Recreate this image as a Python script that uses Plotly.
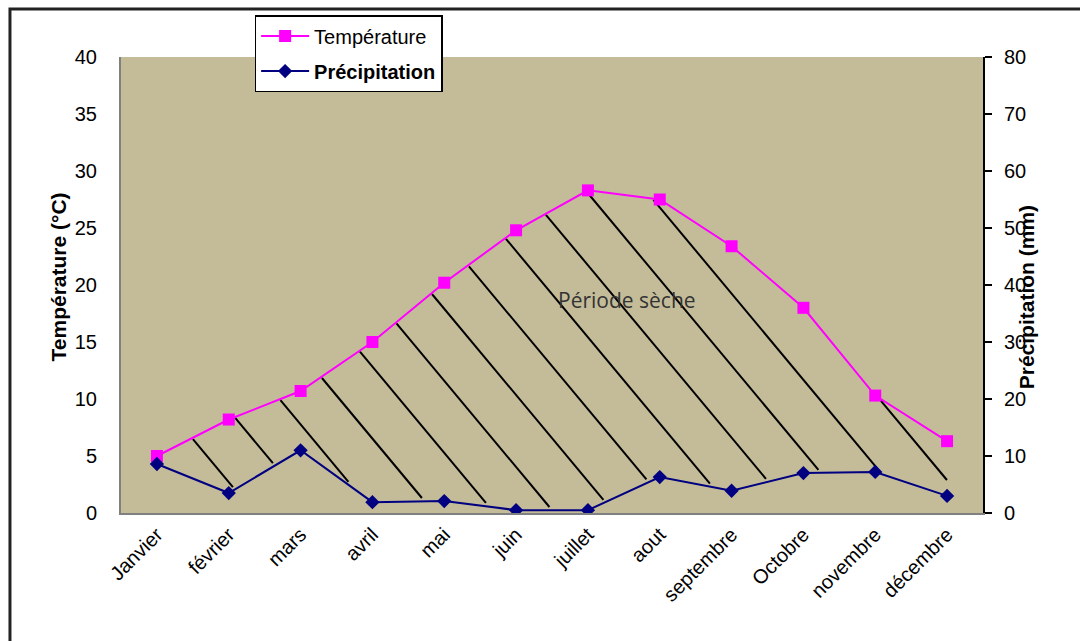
import numpy as np
import plotly.graph_objects as go

months = ["Janvier", "février", "mars", "avril", "mai", "juin", "juillet",
          "aout", "septembre", "Octobre", "novembre", "décembre"]
temperature = [5.0, 8.2, 10.7, 15.0, 20.2, 24.8, 28.3, 27.5, 23.4, 18.0, 10.3, 6.3]
precipitation = [8.6, 3.5, 11.0, 1.9, 2.1, 0.5, 0.5, 6.3, 3.9, 7.0, 7.2, 3.0]

TAN = "#C4BC99"
FONT = "Liberation Sans, Arial, sans-serif"

# ---- hatch lines for the dry period (T > P/2), computed from the data ----
W, H = 1080, 641
ML, MR, MT, MB = 121, 97, 57, 128
px_x = (W - ML - MR) / 12.0          # pixels per category
px_y = (H - MT - MB) / 40.0          # pixels per °C
idx = np.arange(len(months), dtype=float)
t_arr = np.array(temperature)
p_arr = np.array(precipitation) / 2.0  # precipitation on the temperature scale

slope = 1.2        # hatch steepness (pixel space)
spacing = 60.0     # horizontal spacing between hatch lines (px)
u = np.arange(0, 11 * px_x + 0.25, 0.5)
top = np.interp(u / px_x, idx, t_arr) * px_y
bot = np.interp(u / px_x, idx, p_arr) * px_y
hx, hy = [], []
c = 45.0
while c < 11 * px_x * slope + 40 * px_y:
    v = c - slope * u
    inside = (v <= top - 1) & (v >= bot + 3)
    if inside.any():
        run_start = None
        for i, ok in enumerate(inside):
            if ok and run_start is None:
                run_start = i
            if (not ok or i == len(inside) - 1) and run_start is not None:
                end = i if ok else i - 1
                if end - run_start > 4:
                    hx += [u[run_start] / px_x, u[end] / px_x, None]
                    hy += [v[run_start] / px_y, v[end] / px_y, None]
                run_start = None
    c += spacing * slope

fig = go.Figure()
fig.add_trace(go.Scatter(
    x=hx, y=hy, mode="lines", line=dict(color="black", width=2),
    showlegend=False, hoverinfo="skip"))

fig.add_trace(go.Scatter(
    x=idx, y=temperature, name="Température", mode="lines+markers",
    line=dict(color="#FF00FF", width=2),
    marker=dict(symbol="square", size=12, color="#FF00FF"),
    legendgroup="t"))
fig.add_trace(go.Scatter(
    x=idx, y=precipitation, name="<b>Précipitation</b>", mode="lines+markers",
    yaxis="y2",
    line=dict(color="#000080", width=2),
    marker=dict(symbol="diamond", size=11, color="#000080"),
    legendgroup="p"))

fig.update_layout(
    width=W, height=H,
    margin=dict(l=ML, r=MR, t=MT, b=MB),
    paper_bgcolor="white",
    plot_bgcolor=TAN,
    font=dict(family=FONT, size=20, color="black"),
    showlegend=True,
    legend=dict(x=0.155, y=1.092, xanchor="left", yanchor="top",
                bgcolor="white", bordercolor="black", borderwidth=1.5,
                font=dict(size=20), traceorder="grouped", tracegroupgap=6,
                itemwidth=48),
    xaxis=dict(range=[-0.5, 11.5], tickvals=list(idx), ticktext=months,
               tickangle=-45,
               showgrid=False, zeroline=False, showline=True,
               linecolor="#808080", linewidth=2, ticks="",
               tickfont=dict(size=20)),
    yaxis=dict(range=[0, 40], dtick=5, showgrid=False, zeroline=False,
               showline=True, linecolor="#808080", linewidth=2, ticks="",
               ticklabelstandoff=18, tickfont=dict(size=20)),
    yaxis2=dict(range=[0, 80], dtick=10, overlaying="y", side="right",
                showgrid=False, zeroline=False, showline=True,
                linecolor="black", linewidth=2, ticks="outside", ticklen=7,
                tickcolor="black", tickwidth=1.5, ticklabelstandoff=8,
                tickfont=dict(size=20)),
    annotations=[
        dict(text="<b>Température (°C)</b>", xref="paper", yref="paper",
             x=-0.088, y=0.518, textangle=-90, showarrow=False,
             font=dict(size=21)),
        dict(text="<b>Précipitation (mm)</b>", xref="paper", yref="paper",
             x=1.066, y=0.474, textangle=-90, showarrow=False,
             font=dict(size=21)),
        dict(text="Période sèche", xref="paper", yref="paper",
             x=0.587, y=0.467, showarrow=False,
             font=dict(family="Open Sans, DejaVu Sans, sans-serif", size=21,
                       color="#333333")),
    ],
    shapes=[
        dict(type="rect", xref="paper", yref="paper",
             x0=-0.1288, x1=1.3, y0=-0.5, y1=1.105,
             line=dict(color="#222222", width=3), layer="above"),
    ],
)

fig.write_html("out.html")
